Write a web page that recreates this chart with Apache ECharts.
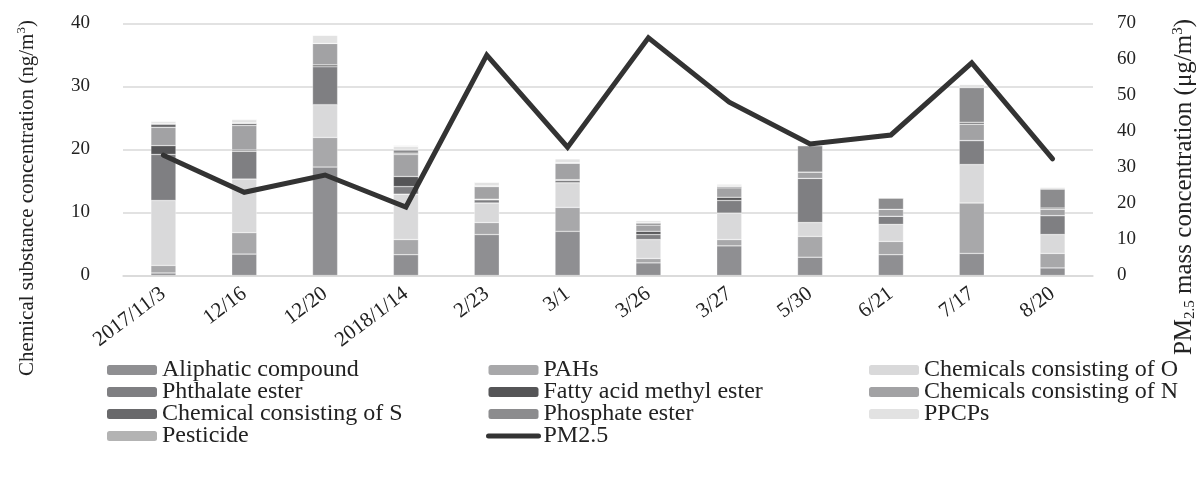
<!DOCTYPE html>
<html>
<head>
<meta charset="utf-8">
<script src="https://cdn.jsdelivr.net/npm/echarts@6/dist/echarts.min.js"></script>
<style>html,body{margin:0;padding:0;background:#fff}#c{width:1201px;height:484px}</style>
</head>
<body>
<div id="c"></div>
<script>
var categories = ['2017/11/3','12/16','12/20','2018/1/14','2/23','3/1','3/26','3/27','5/30','6/21','7/17','8/20'];
var aliphatic = [0.4, 3.4, 17.2, 3.3, 6.5, 7.0, 2.0, 4.7, 2.9, 3.3, 3.5, 1.2];
var pahs      = [1.2, 3.4, 4.7, 2.4, 1.9, 3.8, 0.7, 1.0, 3.3, 2.1, 8.0, 2.3];
var chemO     = [10.3, 8.5, 5.2, 7.2, 3.1, 3.9, 3.0, 4.2, 2.2, 2.7, 6.1, 3.0];
var phthalate = [7.3, 4.4, 6.0, 1.2, 0.5, 0.4, 0.8, 2.0, 7.0, 1.3, 3.8, 3.0];
var fame      = [1.4, 0.2, 0.3, 1.6, 0.1, 0.1, 0.5, 0.5, 0.0, 0.0, 0.0, 0.0];
var chemN     = [2.9, 3.9, 3.4, 3.5, 2.0, 2.6, 1.0, 1.5, 1.0, 1.1, 2.6, 1.0];
var chemS     = [0.5, 0.3, 0.0, 0.2, 0.1, 0.1, 0.3, 0.2, 0.0, 0.0, 0.3, 0.2];
var phosphate = [0.1, 0.1, 0.0, 0.5, 0.0, 0.0, 0.1, 0.1, 4.2, 1.8, 5.5, 3.0];
var ppcps     = [0.3, 0.5, 1.3, 0.6, 0.6, 0.6, 0.3, 0.3, 0.0, 0.0, 0.5, 0.3];
var pesticide = [0.1, 0.1, 0.0, 0.1, 0.0, 0.0, 0.0, 0.0, 0.0, 0.0, 0.0, 0.0];
var pm25      = [33.4, 23.1, 27.9, 19.0, 61.2, 35.6, 66.0, 48.1, 36.5, 39.0, 59.0, 32.4];

var barDefs = [
  ['Aliphatic compound', aliphatic, '#8f8f92'],
  ['PAHs', pahs, '#a8a8aa'],
  ['Chemicals consisting of O', chemO, '#d9d9da'],
  ['Phthalate ester', phthalate, '#7f7f82'],
  ['Fatty acid methyl ester', fame, '#555557'],
  ['Chemicals consisting of N', chemN, '#a2a2a4'],
  ['Chemical consisting of S', chemS, '#69696b'],
  ['Phosphate ester', phosphate, '#8c8c8e'],
  ['PPCPs', ppcps, '#e2e2e2'],
  ['Pesticide', pesticide, '#b3b3b3']
];

var FONT = '"Liberation Serif", "Times New Roman", serif';
var TXT = '#222';

var series = barDefs.map(function (d) {
  return {
    name: d[0], type: 'bar', stack: 'total', yAxisIndex: 0,
    data: d[1], barWidth: '31%',
    itemStyle: { color: d[2], borderColor: 'rgba(255,255,255,0.6)', borderWidth: 0.5 }
  };
});
series.push({
  name: 'PM2.5', type: 'line', yAxisIndex: 1, data: pm25,
  symbol: 'none', z: 10,
  lineStyle: { color: '#333333', width: 5, cap: 'round', join: 'miter' },
  itemStyle: { color: '#333333' }
});

var legendBase = {
  orient: 'vertical', itemWidth: 50, itemHeight: 10, itemGap: -2,
  textStyle: { fontFamily: FONT, fontSize: 24, lineHeight: 20, color: TXT },
  itemStyle: { borderWidth: 0 }, selectedMode: false, padding: 0
};
function lg(left, data) {
  var o = JSON.parse(JSON.stringify(legendBase));
  o.left = left; o.top = 358; o.data = data;
  return o;
}

var chart = echarts.init(document.getElementById('c'));
chart.setOption({
  animation: false,
  grid: { left: 123, right: 108, top: 23.3, bottom: 208.5 },
  xAxis: {
    type: 'category', data: categories,
    axisTick: { show: false },
    axisLine: { lineStyle: { color: '#d9d9d9', width: 1.5 } },
    axisLabel: { rotate: 37, margin: 16, fontFamily: FONT, fontSize: 21, color: TXT, interval: 0 }
  },
  yAxis: [
    { type: 'value', min: 0, max: 40, interval: 10,
      axisLine: { show: false }, axisTick: { show: false },
      splitLine: { lineStyle: { color: '#d9d9d9', width: 1.5 } },
      axisLabel: { margin: 33, fontFamily: FONT, fontSize: 19, color: TXT } },
    { type: 'value', min: 0, max: 70, interval: 10, position: 'right',
      axisLine: { show: false }, axisTick: { show: false },
      splitLine: { show: false },
      axisLabel: { margin: 24, fontFamily: FONT, fontSize: 19, color: TXT } }
  ],
  legend: [
    lg(107, ['Aliphatic compound', 'Phthalate ester', 'Chemical consisting of S', 'Pesticide']),
    lg(486, ['PAHs', 'Fatty acid methyl ester', 'Phosphate ester',
      { name: 'PM2.5', itemStyle: { opacity: 0, color: 'rgba(0,0,0,0)' },
        lineStyle: { width: 5, cap: 'round', color: '#333333' } }]),
    lg(869, ['Chemicals consisting of O', 'Chemicals consisting of N', 'PPCPs'])
  ],
  graphic: [
    { type: 'text', x: 27, y: 198, rotation: Math.PI / 2,
      style: { text: 'Chemical substance concentration (ng/m{sup|3})', fill: TXT,
        font: '21px ' + FONT, align: 'center', verticalAlign: 'middle',
        rich: { sup: { fontSize: 13, fontFamily: FONT, fill: TXT, padding: [0, 0, 10, 0] } } } },
    { type: 'text', x: 1184, y: 187, rotation: Math.PI / 2,
      style: { text: 'PM{sub|2.5} mass concentration (μg/m{sup|3})', fill: TXT,
        font: '25px ' + FONT, align: 'center', verticalAlign: 'middle',
        rich: { sup: { fontSize: 15, fontFamily: FONT, fill: TXT, padding: [0, 0, 12, 0] },
                sub: { fontSize: 15, fontFamily: FONT, fill: TXT, padding: [12, 0, 0, 0] } } } }
  ],
  series: series
});
</script>
</body>
</html>
